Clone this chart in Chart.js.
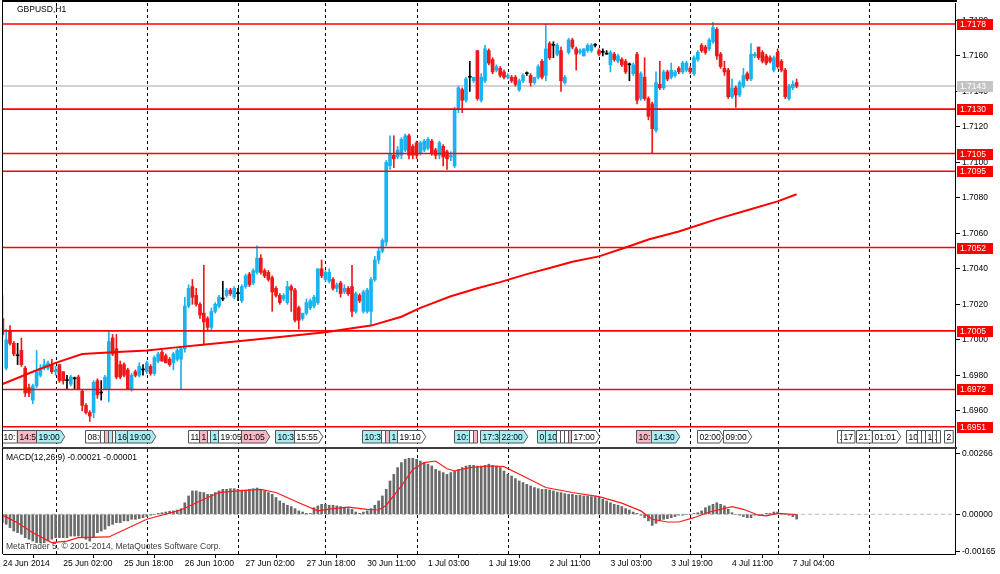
<!DOCTYPE html>
<html>
<head>
<meta charset="utf-8">
<title>GBPUSD,H1</title>
<script src="https://cdn.jsdelivr.net/npm/chart.js@4.4.1/dist/chart.umd.min.js"></script>
<style>
  html, body { margin: 0; padding: 0; background: #fff; }
  #wrap { position: relative; width: 1000px; height: 574px; overflow: hidden; }
  #main { position: absolute; left: 0; top: 0; }
  #macd { position: absolute; left: 0; top: 448px; }
</style>
</head>
<body>
<div id="wrap">
  <canvas id="main" width="1000" height="448"></canvas>
  <canvas id="macd" width="1000" height="126"></canvas>
</div>
<script>
// GBPUSD H1 candles + MACD, MetaTrader 5 look

// prices are read as pips above 1.6900
const BASE = 1.69;
const PIP = 0.0001;

const opens = [
  112, 84,105, 98, 91, 94, 84, 73, 66, 74,
   80, 84, 84, 86, 82, 86, 82, 77, 75, 78,
   79, 71, 63, 59, 59, 77, 70, 72, 72,101,
   95, 86, 86, 83, 72, 82, 80, 83, 82, 85,
   81, 88, 93, 91, 89, 87, 89, 89, 95,119,
  130,125,120,115,112,107,116,119,123,125,
  128,124,126,122,130,137,132,138,146,139,
  138,135,129,125,123,121,130,128,118,112,
  115,118,119,121,140,134,133,134,129,132,
  127,129,130,116,125,116,116,116,134,145,
  150,155,198,204,203,204,207,215,209,211,
  205,207,208,212,207,204,209,206,203,198,
  230,241,235,248,246,263,235,246,263,258,
  252,253,251,248,248,248,241,246,250,249,
  245,248,257,249,267,266,261,263,245,262,
  269,264,262,260,263,263,266,263,262,261,
  255,261,257,258,257,255,250,261,236,248,
  236,233,218,244,242,251,248,249,253,251,
  252,253,250,258,266,265,264,268,275,261,
  253,252,237,242,238,243,250,247,260,265,
  262,260,259,252,262,257,252,236,242,245
];
const highs = [
  125,106,108, 99, 98,101, 85, 75, 75, 94,
   86, 89, 88, 89, 85, 86, 82, 80, 80, 79,
   80, 72, 64, 60, 77, 78, 77, 80,105,103,
  103, 88, 87, 84, 81, 83, 87, 86, 88, 86,
   91, 93, 94, 92, 90, 93, 95, 96,124,131,
  134,129,121,142,113,118,121,125,133,129,
  129,130,129,131,137,138,140,153,148,140,
  139,136,130,126,126,133,131,129,119,115,
  123,123,125,140,145,139,140,135,132,133,
  131,130,142,127,126,128,129,135,147,152,
  157,201,215,215,209,214,216,216,210,212,
  212,213,214,213,208,212,210,207,206,231,
  243,242,248,257,248,263,250,266,264,259,
  255,254,252,250,249,249,247,250,251,250,
  248,255,258,278,268,268,267,265,249,270,
  270,265,264,264,267,267,267,264,264,263,
  263,262,261,259,258,256,256,262,251,259,
  237,234,251,257,252,252,256,252,254,257,
  257,254,260,263,267,266,270,279,276,262,
  257,253,247,243,246,253,251,267,262,265,
  263,261,260,260,264,258,253,244,246,247
];
const lows = [
  101, 83, 97, 91, 86, 85, 68, 68, 64, 73,
   79, 83, 83, 81, 80, 76, 75, 72, 74, 72,
   72, 60, 58, 54, 56, 67, 66, 72, 65, 91,
   78, 78, 79, 72, 71, 79, 79, 80, 81, 80,
   80, 87, 88, 87, 85, 83, 88, 72, 93,118,
  120,119,112, 97,105,105,115,118,122,124,
  125,123,122,121,129,130,131,137,137,135,
  133,116,124,120,122,120,116,110,106,111,
  114,117,118,120,135,133,132,128,127,124,
  126,125,113,115,121,115,115,108,133,143,
  149,153,196,197,202,202,206,202,202,202,
  204,206,207,204,202,202,198,196,201,197,
  228,228,234,240,245,235,234,245,255,250,
  251,248,247,247,245,243,240,245,249,243,
  244,247,247,246,258,259,260,240,244,261,
  264,252,261,260,262,262,265,260,260,261,
  251,257,256,254,250,246,249,233,235,235,
  224,205,217,241,241,246,247,248,250,250,
  251,250,249,257,262,261,263,267,258,253,
  249,236,236,231,237,242,246,246,259,258,
  256,255,256,251,253,251,236,235,241,242
];
const closes = [
  103,100, 98, 92, 91, 86, 70, 70, 74, 82,
   84, 86, 87, 82, 83, 77, 77, 77, 79, 78,
   72, 63, 59, 57, 76, 69, 70, 79, 99, 92,
   79, 79, 80, 72, 80, 80, 85, 83, 87, 81,
   90, 92, 88, 87, 86, 92, 94, 95,119,129,
  124,120,114,110,107,116,120,124,123,128,
  126,129,126,130,136,131,139,146,138,136,
  134,127,125,121,125,130,128,111,111,115,
  121,122,124,140,136,138,138,129,131,126,
  129,126,116,126,122,127,128,134,145,150,
  156,200,205,202,207,213,215,204,204,204,
  211,212,213,205,204,211,203,202,204,230,
  242,235,247,248,248,236,248,264,256,251,
  254,249,248,249,246,244,246,249,250,245,
  248,254,248,264,259,266,266,246,248,269,
  265,261,263,264,266,266,266,261,262,261,
  262,258,260,255,251,255,255,235,250,236,
  226,219,245,242,251,247,252,251,251,256,
  256,251,259,262,263,262,269,276,260,254,
  251,237,242,238,245,249,247,261,261,259,
  257,256,257,259,254,252,237,243,244,243
];

// red moving average, read at a few bars (pips above 1.6900)
const maBars = [0, 8, 14, 21, 29, 38, 47, 52, 64, 73, 85, 92, 97, 105, 110, 118, 125, 131, 138, 145, 150, 157, 164, 170, 178, 188, 196, 204, 209];
const maPips = [75, 82, 87, 92, 93, 94, 96, 97, 99.6, 101.5, 104.3, 106.5, 108, 113, 118, 124.5, 129, 132.5, 137, 141, 144, 147, 152, 156.5, 161, 168, 173, 178, 182];

const levels = [1.7178, 1.7130, 1.7105, 1.7095, 1.7052, 1.7005, 1.6972, 1.6951];
const lastPrice = 1.7143;
const priceTicks = [1.6960, 1.6980, 1.7000, 1.7020, 1.7040, 1.7060, 1.7080, 1.7100, 1.7120, 1.7140, 1.7160, 1.7180];

// MACD histogram per bar, in units of 0.00001
const MACD_UNIT = 0.00001;
const macdHist = [
  -37,-44,-59,-74,-81,-88,-103,-110,-118,-125,
  -125,-125,-118,-110,-103,-103,-103,-103,-96,-96,
  -96,-103,-110,-118,-103,-81,-74,-66,-51,-44,
  -37,-37,-29,-29,-22,-22,-19,-15,-10,-4,
  0,4,7,10,13,15,19,25,51,81,
  103,103,98,96,88,88,96,103,110,110,
  113,113,110,107,107,110,113,116,110,
  103,96,88,74,59,49,40,34,25,15,
  10,4,4,29,37,44,44,40,40,37,
  34,29,25,22,10,4,10,15,25,40,
  59,81,110,147,176,206,228,243,247,247,
  243,235,228,221,213,198,191,184,176,184,
  191,198,206,213,216,216,213,213,216,221,
  216,213,206,191,176,169,157,147,140,132,
  125,118,113,110,110,107,103,98,96,
  91,88,88,84,84,81,81,78,78,74,
  66,59,51,44,40,34,25,19,10,4,
  -4,-15,-29,-49,-40,-29,-22,-19,-15,-10,
  -4,-4,0,0,4,7,15,29,37,44,
  51,44,37,22,7,0,-4,-10,-15,-15,
  -4,-4,0,4,4,10,10,4,0,-4,
  -10,-21
];
const signalBars = [0, 4, 8, 13, 17, 20, 28, 38, 47, 52, 57, 62, 68, 72, 78, 83, 87, 91, 96, 99, 101, 105, 108, 111, 114, 117, 119, 123, 128, 132, 137, 143, 150, 157, 163, 168, 171, 175, 178, 182, 186, 192, 195, 199, 201, 204, 209];
const signalVals = [-4, -37, -81, -125, -118, -103, -100, -22, 19, 59, 96, 103, 110, 96, 51, 15, 25, 32, 22, 19, 40, 125, 198, 228, 235, 201, 191, 206, 213, 210, 169, 118, 96, 78, 49, 15, -22, -34, -34, -15, 10, 34, 22, -4, -7, 4, -1];
const macdTicks = [0.00266, 0, -0.00165];

// time axis
const timeLabelBars = [0, 16, 32, 48, 64, 80, 96, 112, 128, 144, 160, 176, 192, 208];
const timeLabels = ['24 Jun 2014', '25 Jun 02:00', '25 Jun 18:00', '26 Jun 10:00', '27 Jun 02:00', '27 Jun 18:00', '30 Jun 11:00', '1 Jul 03:00', '1 Jul 19:00', '2 Jul 11:00', '3 Jul 03:00', '3 Jul 19:00', '4 Jul 11:00', '7 Jul 04:00'];
const daySeparators = [14, 38, 62, 85, 109, 133, 157, 181, 204, 228];

// economic calendar markers along the bottom of the price window
const eventBars = [0,4,9,22,26,27,28,29,30,33, 49,52,54,55,57,63,72,77,95,100, 101,102,104,119,123,124,126,131,141,143, 146,147,148,149,150,167,171,183,190,220, 221,225,229,238,241,242,243,245,246,248];
const eventTexts = ['10:','14:5','19:00','08:0','','','','','16','19:00', '11','1','','1','19:05','01:05','10:3','15:55','10:3','', '','1','19:10','10:','','','17:3','22:00','0','10', '','','','','17:00','10:','14:30','02:00','09:00','1', '17','21:','01:01','10','','','1','1','','2'];
const eventKinds = ['w','p','c','w','w','p','c','w','c','c', 'w','p','w','c','w','p','c','w','c','w', 'p','c','w','c','w','p','c','c','c','c', 'w','w','w','p','w','p','c','w','w','w', 'w','w','w','w','w','w','w','w','w','w'];
const eventArrow = [0,0,1,0,0,0,0,0,0,1, 0,0,0,0,0,1,0,1,0,0, 0,0,1,0,0,0,0,1,0,0, 0,0,0,0,1,0,1,1,1,0, 0,0,1,0,0,0,0,0,0,0];

// scale ranges (match the window geometry)
const X_MIN = 0.158, X_MAX = 250.68;
const Y_MIN = 1.693956, Y_MAX = 1.718984;
const M_MIN = -0.001751, M_MAX = 0.002880;

const BULL = '#19b4f0';
const BEAR = '#f01818';
const DOJI = '#000000';
const FONT_FAMILY = "'Liberation Sans', Arial, sans-serif";
const FONT = '8.5px ' + FONT_FAMILY;
const eventFill = { w: '#ffffff', c: '#a9ecf2', p: '#f5b9c6' };

Chart.defaults.font.family = FONT_FAMILY;
Chart.defaults.font.size = 8.5;
Chart.defaults.color = '#000';
Chart.defaults.animation = false;

const toPrice = v => BASE + v * PIP;
const candleColor = closes.map((c, i) => c > opens[i] ? BULL : (c < opens[i] ? BEAR : DOJI));
const wickData = highs.map((h, i) => ({ x: i, y: [toPrice(lows[i]), toPrice(h)] }));
const bodyData = opens.map((o, i) => ({ x: i, y: [toPrice(Math.min(o, closes[i])), toPrice(Math.max(o, closes[i]))] }));

// keep the plot area exactly where the window frame is
function noPad(s) {
  s.paddingTop = 0;
  s.paddingBottom = 0;
  s.paddingLeft = 0;
  s.paddingRight = 0;
}

function drawSeparators(chart) {
  const { ctx, chartArea: a, scales: { x } } = chart;
  ctx.save();
  ctx.beginPath();
  ctx.rect(a.left, a.top, a.right - a.left, a.bottom - a.top);
  ctx.clip();
  ctx.strokeStyle = '#000';
  ctx.lineWidth = 1;
  ctx.setLineDash([3, 3]);
  daySeparators.forEach(b => {
    const px = Math.round(x.getPixelForValue(b)) + 0.5;
    ctx.beginPath();
    ctx.moveTo(px, a.top);
    ctx.lineTo(px, a.bottom);
    ctx.stroke();
  });
  ctx.restore();
}

function drawEvents(chart) {
  const { ctx, chartArea: a, scales: { x } } = chart;
  const top = 430.5, h = 12.5;
  ctx.save();
  ctx.beginPath();
  ctx.rect(a.left, top - 2, a.right - a.left, h + 4);
  ctx.clip();
  ctx.font = FONT;
  ctx.textBaseline = 'middle';
  for (let k = 0; k < eventBars.length; k++) {
    const x0 = Math.round(x.getPixelForValue(eventBars[k])) - 0.5;
    const next = k + 1 < eventBars.length ? Math.round(x.getPixelForValue(eventBars[k + 1])) - 0.5 : Infinity;
    const tw = eventTexts[k] ? ctx.measureText(eventTexts[k]).width : 0;
    let w = Math.min(tw + 4 + (eventArrow[k] ? 3 : 0), next - x0);
    if (w < 3) w = 3;
    ctx.beginPath();
    if (eventArrow[k]) {
      const tip = 4;
      ctx.moveTo(x0, top);
      ctx.lineTo(x0 + w - tip, top);
      ctx.lineTo(x0 + w, top + h / 2);
      ctx.lineTo(x0 + w - tip, top + h);
      ctx.lineTo(x0, top + h);
      ctx.closePath();
    } else {
      ctx.rect(x0, top, w, h);
    }
    ctx.fillStyle = eventFill[eventKinds[k]];
    ctx.fill();
    ctx.strokeStyle = '#555';
    ctx.lineWidth = 1;
    ctx.stroke();
    if (eventTexts[k]) {
      ctx.save();
      ctx.beginPath();
      ctx.rect(x0 + 1, top, w - 1.5, h);
      ctx.clip();
      ctx.fillStyle = '#000';
      ctx.fillText(eventTexts[k], x0 + 2, top + h / 2 + 0.5);
      ctx.restore();
    }
  }
  ctx.restore();
}

function priceBox(ctx, py, text, fill) {
  ctx.fillStyle = fill;
  ctx.fillRect(957, Math.round(py) - 5, 36, 11);
  ctx.fillStyle = '#fff';
  ctx.textBaseline = 'middle';
  ctx.fillText(text, 960, Math.round(py) + 0.5);
}

const mainOverlay = {
  id: 'mainOverlay',
  beforeDatasetsDraw(chart) { drawSeparators(chart); },
  afterDraw(chart) {
    const { ctx, scales: { y } } = chart;
    ctx.save();
    // window frame
    ctx.fillStyle = '#000';
    ctx.fillRect(2, 0, 955, 2);
    ctx.fillRect(2, 0, 1, 448);
    ctx.fillStyle = '#3c3c3c';
    ctx.fillRect(2, 447, 955, 1);
    // symbol caption
    ctx.font = FONT;
    ctx.fillStyle = '#000';
    ctx.textBaseline = 'middle';
    ctx.fillText('GBPUSD,H1', 17, 10);
    drawEvents(chart);
    ctx.font = FONT;
    priceBox(ctx, y.getPixelForValue(lastPrice), lastPrice.toFixed(4), '#c4c4c4');
    levels.forEach(p => priceBox(ctx, y.getPixelForValue(p), p.toFixed(4), '#ff0000'));
    ctx.restore();
  }
};

const macdOverlay = {
  id: 'macdOverlay',
  beforeDatasetsDraw(chart) { drawSeparators(chart); },
  afterDraw(chart) {
    const { ctx } = chart;
    ctx.save();
    ctx.fillStyle = '#3c3c3c';
    ctx.fillRect(2, 0, 955, 1);
    ctx.fillStyle = '#000';
    ctx.fillRect(2, 0, 1, 106);
    ctx.font = FONT;
    ctx.textBaseline = 'middle';
    ctx.fillStyle = '#000';
    ctx.fillText('MACD(12,26,9) -0.00021 -0.00001', 6, 9.5);
    ctx.fillStyle = '#3a3a3a';
    ctx.fillText('MetaTrader 5, \u00a9 2001-2014, MetaQuotes Software Corp.', 6, 99);
    ctx.restore();
  }
};

const levelSets = levels.map(p => ({
  type: 'line',
  data: [{ x: X_MIN, y: p }, { x: X_MAX, y: p }],
  borderColor: '#ff0000',
  borderWidth: 1.6,
  pointRadius: 0,
  order: 0
}));

new Chart(document.getElementById('main'), {
  type: 'bar',
  data: {
    datasets: [
      ...levelSets,
      {
        type: 'line',
        data: maBars.map((b, k) => ({ x: b, y: toPrice(maPips[k]) })),
        borderColor: '#ff0000',
        borderWidth: 2,
        pointRadius: 0,
        order: 1
      },
      {
        type: 'bar',
        data: bodyData,
        backgroundColor: candleColor,
        barThickness: 3,
        minBarLength: 1,
        grouped: false,
        order: 2
      },
      {
        type: 'bar',
        data: wickData,
        backgroundColor: candleColor,
        barThickness: 1,
        grouped: false,
        order: 3
      },
      {
        type: 'line',
        data: [{ x: X_MIN, y: lastPrice }, { x: X_MAX, y: lastPrice }],
        borderColor: '#d2d2d2',
        borderWidth: 2,
        pointRadius: 0,
        order: 4
      }
    ]
  },
  options: {
    responsive: false,
    animation: false,
    events: [],
    layout: { padding: { left: 3, top: 3, right: 0, bottom: 1 } },
    plugins: { legend: { display: false }, tooltip: { enabled: false } },
    scales: {
      x: { type: 'linear', min: X_MIN, max: X_MAX, display: false, offset: false },
      y: {
        type: 'linear',
        position: 'right',
        min: Y_MIN,
        max: Y_MAX,
        afterFit(s) { s.width = 45; noPad(s); },
        afterBuildTicks(s) { s.ticks = priceTicks.map(v => ({ value: v })); },
        grid: { drawOnChartArea: false, drawTicks: true, tickLength: 5, color: '#000' },
        border: { display: true, color: '#000', width: 1 },
        ticks: { padding: 2, color: '#000', callback: v => Number(v).toFixed(4) }
      }
    }
  },
  plugins: [mainOverlay]
});

new Chart(document.getElementById('macd'), {
  type: 'bar',
  data: {
    datasets: [
      {
        type: 'line',
        data: signalBars.map((b, k) => ({ x: b, y: signalVals[k] * MACD_UNIT })),
        borderColor: '#ff1a1a',
        borderWidth: 1.2,
        pointRadius: 0,
        order: 0
      },
      {
        type: 'bar',
        data: macdHist.map((v, i) => ({ x: i, y: v * MACD_UNIT })),
        backgroundColor: '#6a6a6a',
        barThickness: 2,
        order: 1
      },
      {
        type: 'line',
        data: [{ x: X_MIN, y: 0 }, { x: X_MAX, y: 0 }],
        borderColor: '#bcbcbc',
        borderWidth: 1,
        borderDash: [4, 3],
        pointRadius: 0,
        order: 2
      }
    ]
  },
  options: {
    responsive: false,
    animation: false,
    events: [],
    layout: { padding: { left: 3, top: 1, right: 0, bottom: 0 } },
    plugins: { legend: { display: false }, tooltip: { enabled: false } },
    scales: {
      x: {
        type: 'linear',
        min: X_MIN,
        max: X_MAX,
        offset: false,
        afterFit(s) { s.height = 20; noPad(s); },
        afterBuildTicks(s) { s.ticks = timeLabelBars.map(b => ({ value: Math.max(b, X_MIN) })); },
        grid: { drawOnChartArea: false, drawTicks: true, tickLength: 4, color: '#000' },
        border: { display: true, color: '#000', width: 1 },
        ticks: {
          autoSkip: false,
          maxRotation: 0,
          minRotation: 0,
          align: 'start',
          padding: 1,
          color: '#000',
          callback: (v, i) => timeLabels[i]
        }
      },
      y: {
        type: 'linear',
        position: 'right',
        min: M_MIN,
        max: M_MAX,
        afterFit(s) { s.width = 45; noPad(s); },
        afterBuildTicks(s) { s.ticks = macdTicks.map(v => ({ value: v })); },
        grid: { drawOnChartArea: false, drawTicks: true, tickLength: 5, color: '#000' },
        border: { display: true, color: '#000', width: 1 },
        ticks: { padding: 2, color: '#000', callback: v => Number(v).toFixed(5) }
      }
    }
  },
  plugins: [macdOverlay]
});
</script>
</body>
</html>
